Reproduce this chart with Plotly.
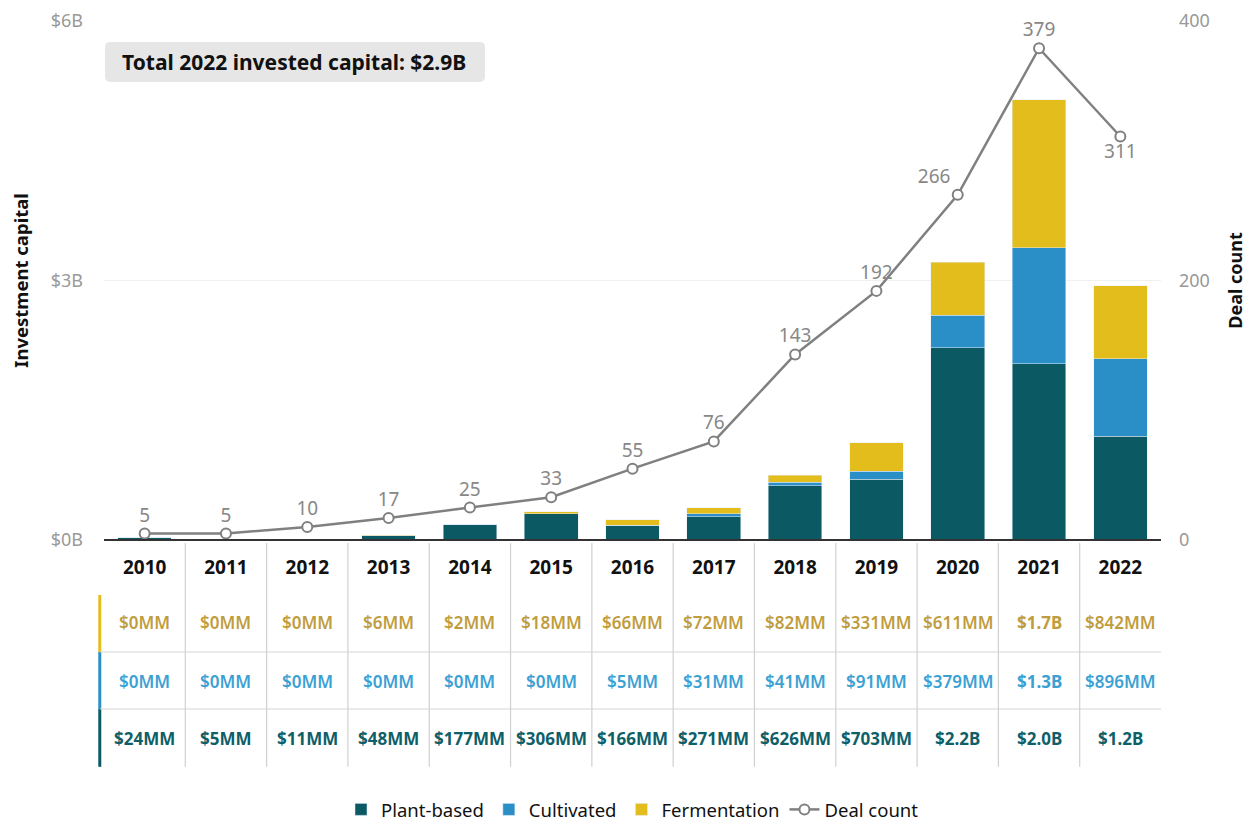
import plotly.graph_objects as go

years = [str(y) for y in range(2010, 2023)]
plant_mm = [24, 5, 11, 48, 177, 306, 166, 271, 626, 703, 2220, 2040, 1200]
cultivated_mm = [0, 0, 0, 0, 0, 0, 5, 31, 41, 91, 379, 1340, 896]
fermentation_mm = [0, 0, 0, 6, 2, 18, 66, 72, 82, 331, 611, 1710, 842]
deal_count = [5, 5, 10, 17, 25, 33, 55, 76, 143, 192, 266, 379, 311]
left_ticks = [0, 3e9, 6e9]
left_ticktext = ["$0B", "$3B", "$6B"]
right_ticks = [0, 200, 400]
total_label = "Total 2022 invested capital: $2.9B"

C_PLANT = "#0b5a63"
C_CULT = "#2a8fc6"
C_FERM = "#e2bd1b"
T_PLANT = "#0f5f69"
T_CULT = "#3ba1d3"
T_FERM = "#bf9d3e"
FONT = "Noto Sans"

def fmt(v):
    return f"${v/1000:.1f}B" if v >= 1000 else f"${v}MM"

fig = go.Figure()
fig.add_bar(x=years, y=[v * 1e6 for v in plant_mm], name="Plant-based",
            marker_color=C_PLANT, width=0.66)
fig.add_bar(x=years, y=[v * 1e6 for v in cultivated_mm], name="Cultivated",
            marker_color=C_CULT, width=0.66)
fig.add_bar(x=years, y=[v * 1e6 for v in fermentation_mm], name="Fermentation",
            marker_color=C_FERM, width=0.66)
positions = ["top center"] * len(deal_count)
positions[10] = "top left"
positions[12] = "bottom center"
fig.add_scatter(x=years, y=deal_count, yaxis="y2", name="Deal count",
                mode="lines+markers+text",
                line=dict(color="#808080", width=2.5),
                marker=dict(symbol="circle", size=10, color="white",
                            line=dict(color="#808080", width=2)),
                text=[str(v) for v in deal_count],
                textposition=positions,
                textfont=dict(color="#888888", size=19, family=FONT))

n = len(years)
row_y = [-0.158, -0.272, -0.383]
rows = [(fermentation_mm, T_FERM, C_FERM), (cultivated_mm, T_CULT, C_CULT), (plant_mm, T_PLANT, C_PLANT)]
annotations = []
shapes = []
for ri, (vals, tcol, ccol) in enumerate(rows):
    for i, v in enumerate(vals):
        label = fmt(v)
        strong = ri == 2 or v >= 1000
        annotations.append(dict(x=(i + 0.5) / n, y=row_y[ri], xref="paper", yref="paper",
                                xanchor="center", yanchor="middle",
                                text=label, showarrow=False,
                                font=dict(color=tcol, size=17, family=FONT,
                                          weight=700 if strong else 600)))
row_edges = [-0.106, -0.2158, -0.3256, -0.437]
left_edge = -0.004
for ri, (_, _, ccol) in enumerate(rows):
    shapes.append(dict(type="line", xref="paper", yref="paper", x0=left_edge, x1=left_edge,
                       y0=row_edges[ri], y1=row_edges[ri + 1],
                       line=dict(color=ccol, width=3)))
for yy in row_edges[1:3]:
    shapes.append(dict(type="line", xref="paper", yref="paper", x0=left_edge, x1=1,
                       y0=yy, y1=yy, line=dict(color="#d6d6d6", width=1.2)))
for i in range(1, n):
    shapes.append(dict(type="line", xref="paper", yref="paper", x0=i / n, x1=i / n,
                       y0=-0.006, y1=-0.437, line=dict(color="#d0d0d0", width=1.2)))
shapes.append(dict(type="line", xref="paper", yref="paper", x0=0, x1=1,
                   y0=0, y1=0, line=dict(color="#333333", width=2)))

bx0, bx1, by0, by1 = 0.001, 0.3604, 0.8825, 0.9595
rx, ry = 0.005, 0.0105
path = (f"M {bx0+rx},{by0} L {bx1-rx},{by0} Q {bx1},{by0} {bx1},{by0+ry} "
        f"L {bx1},{by1-ry} Q {bx1},{by1} {bx1-rx},{by1} L {bx0+rx},{by1} "
        f"Q {bx0},{by1} {bx0},{by1-ry} L {bx0},{by0+ry} Q {bx0},{by0} {bx0+rx},{by0} Z")
shapes.append(dict(type="path", xref="paper", yref="paper", path=path,
                   fillcolor="#e6e6e6", line=dict(width=0), layer="below"))
annotations.append(dict(x=0.0151, y=0.921, xref="paper", yref="paper", xanchor="left",
                        yanchor="middle", text="<b>" + total_label + "</b>",
                        showarrow=False,
                        font=dict(size=21, color="#111111", family=FONT)))

fig.update_layout(
    width=1251, height=823,
    margin=dict(l=96, r=98, t=13, b=291, autoexpand=False),
    barmode="stack",
    plot_bgcolor="white", paper_bgcolor="white",
    font=dict(family=FONT),
    showlegend=True,
    legend=dict(orientation="h", x=0.5, xanchor="center", y=-0.52, yanchor="middle",
                font=dict(size=18.5, color="#111111", family=FONT),
                traceorder="normal"),
    xaxis=dict(type="category", range=[-0.5, n - 0.5], showgrid=False,
               showline=False, ticks="", automargin=False,
               tickfont=dict(size=19, color="#111111", family=FONT, weight="bold"),
               ticklabelstandoff=14),
    yaxis=dict(range=[0, 6e9], tickvals=left_ticks, ticktext=left_ticktext,
               showgrid=True, gridcolor="#f0f0f0", zeroline=False, automargin=False,
               ticklabelstandoff=20,
               tickfont=dict(size=18, color="#999999", family=FONT),
               title=dict(text="<b>Investment capital</b>", font=dict(size=18.5, color="#111111", family=FONT),
                          standoff=22)),
    yaxis2=dict(range=[0, 400], tickvals=right_ticks, overlaying="y", side="right",
                showgrid=False, zeroline=False, automargin=False,
                ticklabelstandoff=17,
                tickfont=dict(size=18, color="#999999", family=FONT),
                title=dict(text="<b>Deal count</b>", font=dict(size=18, color="#111111", family=FONT),
                           standoff=20)),
    annotations=annotations,
    shapes=shapes,
)

fig.write_html("out.html")
